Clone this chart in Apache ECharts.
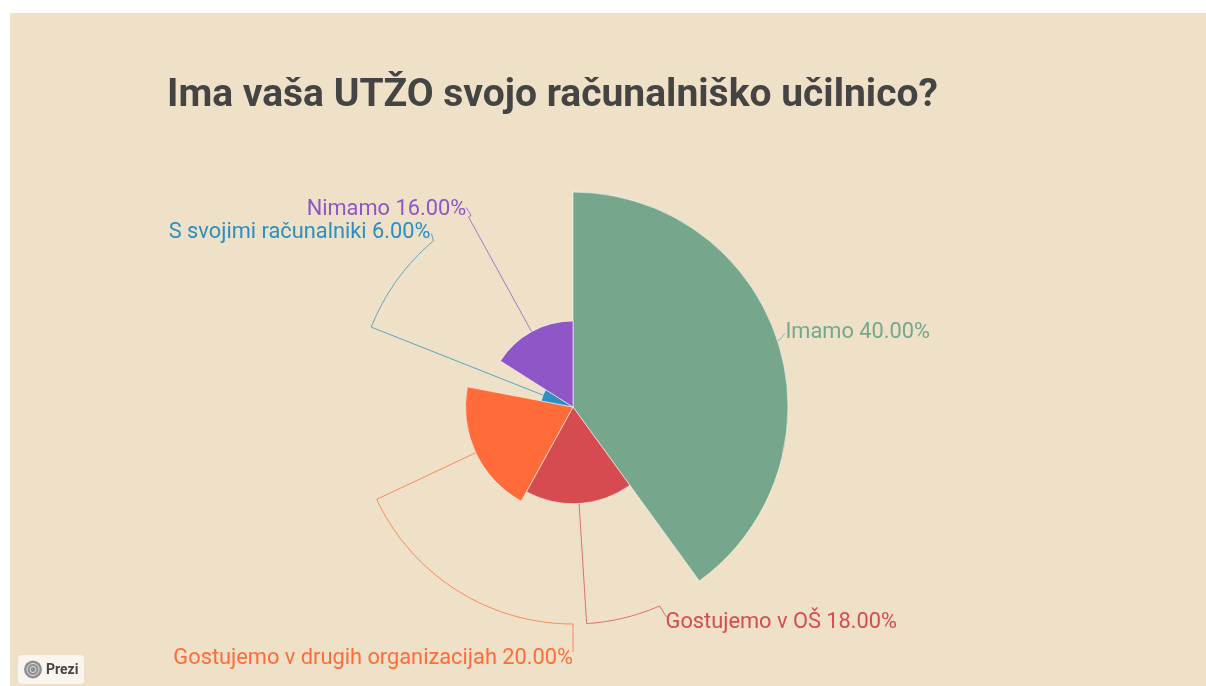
<!DOCTYPE html>
<html>
<head>
<meta charset="utf-8">
<script src="https://cdn.jsdelivr.net/npm/echarts@6/dist/echarts.min.js"></script>
<style>
  html, body { margin: 0; padding: 0; background: #fff; }
  #chart { width: 1206px; height: 686px; }
</style>
</head>
<body>
<div id="chart"></div>
<script>
const titleText = 'Ima vaša UTŽO svojo računalniško učilnico?';
const categories = ['Imamo', 'Gostujemo v OŠ', 'Gostujemo v drugih organizacijah', 'S svojimi računalniki', 'Nimamo'];
const values = [40, 18, 20, 6, 16];
const colors = ['#76a78c', '#d64b50', '#ff6b39', '#2b8fc2', '#8e56c7'];

// layout of the leader lines / labels (not data)
const center = [573, 407];
const maxR = 215;
const leadR = 217;
const labelAngle = [72, 156.5, 180, 320, 332];      // deg, clockwise from top
const labelOffset = [[6, -7], [6, 17], [0, 35], [-3, -8], [-5, -6]];
const lineEnd = [[6, -7], [7, 11], [0, 28], [-2, -7], [-5, -8]];
const labelAlign = ['left', 'left', 'right', 'right', 'right'];

const total = values.reduce((a, b) => a + b, 0);
const maxV = Math.max(...values);

function pt(angDeg, r) {
  const a = angDeg * Math.PI / 180;
  return [center[0] + r * Math.sin(a), center[1] - r * Math.cos(a)];
}

function midAngle(i) {
  let s = 0;
  for (let k = 0; k < i; k++) s += values[k];
  return (s + values[i] / 2) / total * 360;
}

const chart = echarts.init(document.getElementById('chart'));
chart.setOption({
  backgroundColor: '#ffffff',
  animation: false,
  graphic: [
    {
      type: 'rect', z: -10,
      shape: { x: 10, y: 13, width: 1196, height: 673 },
      style: { fill: '#efe1c7' }
    },
    {
      type: 'group', left: 18, top: 655,
      children: [
        { type: 'rect', shape: { x: 0, y: 0, width: 66, height: 29, r: 4 }, style: { fill: '#faf5ee' } },
        { type: 'circle', shape: { cx: 15, cy: 14.5, r: 9 }, style: { fill: '#8f8f8f' } },
        { type: 'circle', shape: { cx: 15, cy: 14.5, r: 6 }, style: { fill: 'none', stroke: '#e0e0e0', lineWidth: 1 } },
        { type: 'circle', shape: { cx: 15, cy: 14.5, r: 3 }, style: { fill: 'none', stroke: '#e0e0e0', lineWidth: 1 } },
        { type: 'text', x: 28, y: 15, style: { text: 'Prezi', fill: '#444', font: 'bold 14px Roboto', verticalAlign: 'middle' } }
      ]
    }
  ],
  title: {
    text: titleText,
    left: 162,
    top: 72,
    textStyle: { fontFamily: 'Roboto', fontWeight: 'bold', fontSize: 39, color: '#444444' }
  },
  series: [
    {
      type: 'pie',
      roseType: 'radius',
      center: center,
      radius: [0, maxR],
      startAngle: 90,
      clockwise: true,
      avoidLabelOverlap: false,
      itemStyle: { borderColor: 'rgba(255,255,255,0.55)', borderWidth: 1 },
      label: {
        show: true,
        fontFamily: 'Roboto',
        fontSize: 21.8,
        formatter: p => p.name + ' ' + (p.value / total * 100).toFixed(2) + '%'
      },
      labelLine: { show: false },
      labelLayout: function (params) {
        const i = params.dataIndex;
        const a = pt(labelAngle[i], leadR);
        return {
          x: a[0] + labelOffset[i][0],
          y: a[1] + labelOffset[i][1],
          align: labelAlign[i],
          verticalAlign: 'middle'
        };
      },
      emphasis: { disabled: true },
      data: categories.map((c, i) => ({
        name: c,
        value: values[i],
        itemStyle: { color: colors[i] },
        label: { color: colors[i] }
      }))
    },
    {
      type: 'custom',
      coordinateSystem: 'none',
      silent: true,
      z: 1,
      data: values.map((v, i) => [i, v]),
      renderItem: function (params, api) {
        const i = params.dataIndex;
        const m = midAngle(i);
        const r = values[i] / maxV * maxR;
        const pts = [pt(m, r), pt(m, leadR)];
        const end = labelAngle[i];
        const step = end > m ? 1 : -1;
        for (let a = m; step > 0 ? a < end : a > end; a += step) pts.push(pt(a, leadR));
        const anchor = pt(end, leadR);
        pts.push(anchor);
        pts.push([anchor[0] + lineEnd[i][0], anchor[1] + lineEnd[i][1]]);
        return {
          type: 'polyline',
          shape: { points: pts },
          style: { stroke: colors[i], lineWidth: 1, fill: 'none', opacity: 0.75 }
        };
      }
    }
  ]
});
</script>
</body>
</html>
